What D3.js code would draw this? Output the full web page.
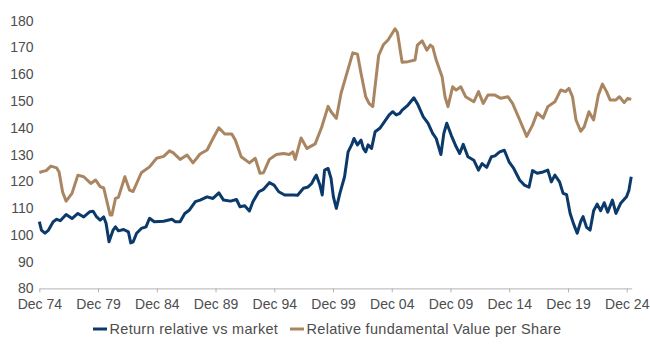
<!DOCTYPE html>
<html>
<head>
<meta charset="utf-8">
<script src="https://cdn.jsdelivr.net/npm/d3@7"></script>
<style>
  html, body { margin: 0; padding: 0; background: #ffffff; }
  svg { display: block; }
  text { font-family: "Liberation Sans", Arial, sans-serif; fill: #4d4d4d; }
</style>
</head>
<body>
<svg id="chart" width="650" height="350"></svg>
<script>
// ---- data (decimal years) ----
const seriesNames = ["Return relative vs market", "Relative fundamental Value per Share"];
const seriesColors = ["#0b3a6a", "#a98661"];

const returnYears = [1974.92,1975.1,1975.4,1975.7,1976.1,1976.4,1976.7,1977.2,1977.7,1978.2,1978.7,1979.2,1979.5,1979.8,1980.1,1980.4,1980.6,1980.85,1981.2,1981.4,1981.65,1982.1,1982.5,1982.7,1982.9,1983.2,1983.6,1984.0,1984.3,1984.7,1985.5,1986.2,1986.5,1986.9,1987.3,1987.7,1988.2,1988.6,1989.2,1989.7,1990.2,1990.6,1991.2,1991.7,1992.0,1992.4,1992.8,1993.1,1993.6,1994.0,1994.5,1994.9,1995.3,1995.8,1996.6,1996.9,1997.4,1997.8,1998.1,1998.4,1998.5,1998.8,1999.0,1999.2,1999.5,1999.75,1999.95,2000.2,2000.5,2000.9,2001.2,2001.5,2001.7,2002.0,2002.3,2002.5,2002.7,2002.9,2003.2,2003.5,2003.9,2004.3,2004.7,2005.0,2005.3,2005.6,2005.8,2006.3,2006.8,2007.1,2007.6,2008.0,2008.4,2008.7,2009.1,2009.35,2009.6,2010.0,2010.4,2010.7,2011.0,2011.4,2011.9,2012.3,2012.6,2013.0,2013.4,2013.7,2014.1,2014.5,2014.9,2015.3,2015.8,2016.2,2016.6,2016.9,2017.3,2017.8,2018.2,2018.5,2018.8,2019.2,2019.5,2019.8,2020.1,2020.4,2020.7,2021.0,2021.2,2021.5,2021.8,2022.1,2022.4,2022.7,2023.0,2023.3,2023.7,2024.0,2024.4,2024.9,2025.1,2025.3];
const returnValues = [104.9,101.8,100.6,101.8,104.9,105.8,105.3,107.6,106.1,108,106.7,108.6,108.8,106.7,105.5,106.7,104.3,97.4,101.8,103,101.5,102,101.1,97,97.4,100.6,102.4,103,106.2,104.9,105.1,105.8,104.9,104.9,108,109.3,112.4,113,114.2,113.6,115.7,113,112.6,113.2,110.5,110.9,108.9,112.4,116.1,117,119.5,118.6,116.1,114.9,114.9,114.8,117.4,117.9,119.2,121.7,122.3,118.6,114.9,124.2,124.8,121.1,114.2,109.9,115.5,121.7,131,133.6,136,133.6,135.4,132.3,131,133.6,132.3,138.5,139.8,142.3,144.8,146,144.8,145.4,146.6,148.5,151.2,149,144.1,141.7,137.9,136,130,137.9,141.7,137,132.9,130.4,133.8,129.2,127.9,124.2,126.6,125.2,129.2,129.5,131,131.6,127.3,124.8,120.5,118.6,117.8,124,123,123.5,124.2,119.8,122.3,119.8,115.5,115,108,104,100.6,105,106.8,102.8,101.8,109,111.5,109,112,108.5,113,108,111.8,114.2,116.6,121.7];

const valueYears = [1974.92,1975.3,1975.5,1975.9,1976.4,1976.6,1976.9,1977.2,1977.7,1978.2,1978.7,1979.3,1979.7,1980.1,1980.4,1980.95,1981.1,1981.4,1981.65,1982.2,1982.6,1982.9,1983.6,1984.3,1984.9,1985.5,1986.0,1986.3,1986.9,1987.5,1988.0,1988.6,1989.2,1989.7,1990.2,1990.7,1991.3,1991.6,1992.1,1992.8,1993.3,1993.7,1994.0,1994.5,1995.1,1995.7,1996.2,1996.5,1996.7,1997.2,1997.7,1998.4,1998.95,1999.5,1999.75,2000.2,2000.6,2001.1,2001.6,2002.0,2002.3,2002.7,2003.0,2003.3,2003.8,2004.2,2004.6,2005.2,2005.4,2005.8,2006.3,2006.9,2007.1,2007.5,2007.9,2008.2,2008.4,2008.7,2009.2,2009.45,2009.7,2010.1,2010.4,2010.8,2011.2,2011.9,2012.3,2012.7,2013.1,2013.7,2014.2,2014.8,2015.2,2015.8,2016.4,2016.9,2017.3,2017.8,2018.2,2018.8,2019.3,2019.7,2020.0,2020.3,2020.6,2021.0,2021.3,2021.7,2022.1,2022.5,2022.85,2023.2,2023.5,2024.0,2024.3,2024.7,2025.0,2025.3];
const valueValues = [123.3,123.8,124,125.7,125,123.5,116,112.6,115.5,122.3,121.7,119.2,120.5,118,117.5,107.4,107.4,113.6,114,121.7,116.7,116.2,123.2,125.4,128.6,129.3,131.4,130.7,128.2,129.8,126.9,130.2,131.7,136,140,137.7,137.7,135.4,129.2,126.9,128.6,123,123.2,128.2,130,130.4,130,131,128.2,136.2,132.3,134,140.2,148,146,143.5,152.9,160.4,168,167.5,160.4,151.6,149,147.9,167,171,172.8,177,175.6,164.5,164.7,165.3,170.9,172.5,169,170.9,170.2,165.3,159.1,151.6,147.9,155.3,154.1,155.3,151.6,149.7,153.5,149.1,152.2,152.2,151,151.6,149.1,143,136.8,141,145.6,143.6,147.9,149.7,154.1,153.5,154.7,151.6,142.9,138.7,140.4,146,142.9,152.2,156.3,153.5,150.4,150.4,151.6,149.4,151,150.6];

const xTickYears = [1974.917,1979.917,1984.917,1989.917,1994.917,1999.917,2004.917,2009.917,2014.917,2019.917,2024.917];
const xTickLabels = ["Dec 74","Dec 79","Dec 84","Dec 89","Dec 94","Dec 99","Dec 04","Dec 09","Dec 14","Dec 19","Dec 24"];
const yTicks = [80,90,100,110,120,130,140,150,160,170,180];

// ---- drawing ----
const svg = d3.select("#chart");
const x = d3.scaleLinear().domain([1974.917, 2025.34]).range([39.3, 631.7]);
const y = d3.scaleLinear().domain([80, 180]).range([288.4, 20.7]);

// x axis
const xAxis = d3.axisBottom(x)
  .tickValues(xTickYears)
  .tickFormat((d, i) => xTickLabels[i])
  .tickSizeInner(4)
  .tickSizeOuter(0)
  .tickPadding(7);
const gx = svg.append("g").attr("transform", `translate(0,${y(80)})`).call(xAxis);
gx.select(".domain").attr("stroke", "#b3b3b3").attr("stroke-width", 1);
gx.selectAll(".tick line").attr("stroke", "#b3b3b3");
gx.selectAll(".tick text")
  .style("font-family", '"Liberation Sans", Arial, sans-serif')
  .style("font-size", "14px")
  .attr("fill", "#4d4d4d");

// y axis (labels only)
const yAxis = d3.axisLeft(y).tickValues(yTicks).tickSize(0).tickPadding(0);
const gy = svg.append("g").attr("transform", "translate(33.5,0)").call(yAxis);
gy.select(".domain").remove();
gy.selectAll(".tick text")
  .style("font-family", '"Liberation Sans", Arial, sans-serif')
  .style("font-size", "14px")
  .attr("fill", "#4d4d4d");

// lines
const line = d3.line().x(d => x(d[0])).y(d => y(d[1])).curve(d3.curveLinear);
const valueData = valueYears.map((t, i) => [t, valueValues[i]]);
const returnData = returnYears.map((t, i) => [t, returnValues[i]]);

svg.append("path").datum(valueData)
  .attr("d", line).attr("fill", "none")
  .attr("stroke", seriesColors[1]).attr("stroke-width", 3)
  .attr("stroke-linejoin", "round");
svg.append("path").datum(returnData)
  .attr("d", line).attr("fill", "none")
  .attr("stroke", seriesColors[0]).attr("stroke-width", 3)
  .attr("stroke-linejoin", "round");

// legend
const legend = svg.append("g").attr("transform", "translate(0,329)");
const legendX = [93, 290];
seriesNames.forEach((name, i) => {
  const g = legend.append("g").attr("transform", `translate(${legendX[i]},0)`);
  g.append("line").attr("x1", 0).attr("x2", 14).attr("y1", 0).attr("y2", 0)
    .attr("stroke", seriesColors[i]).attr("stroke-width", 3);
  g.append("text").attr("x", 16.5).attr("y", 0).attr("dy", "0.35em")
    .style("font-size", "14.5px").style("letter-spacing", "0.3px")
    .text(name);
});
</script>
</body>
</html>
